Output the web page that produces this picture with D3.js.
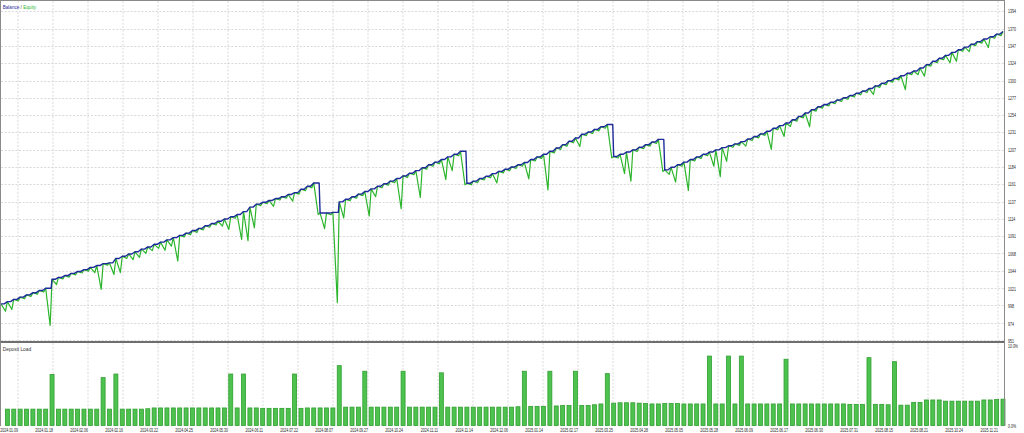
<!DOCTYPE html>
<html><head><meta charset="utf-8">
<script src="https://cdn.jsdelivr.net/npm/d3@7"></script>
<style>html,body{margin:0;padding:0;background:#fff;}svg{display:block;}</style>
</head><body>
<svg id="c" width="1024" height="433"></svg>
<script>
// ---- data ----
const balance = [
1000,1003,1006,1009,1012,1015,1018,1021,
1033,1035.5,1038,1041,1043.5,1046,1049,1051.5,1054,
1055,1061,
1064,1067,1070,1073.5,1076.5,1080,1083,1086,1089,
1092,1095,1098.5,1101.5,1105,1108,1111,1114,1117,
1120,1124,1130,1134,
1136.5,1139,1141.5,1144,1147,1149.5,
1154,1158,1162.5,
1122,1122,1123,1137,
1140.5,1144,1147.5,1151,
1154.5,1158,1161.5,1165,1168.5,1172,
1175.5,1179,1183,1187,1190.5,1194,
1197.5,1201,1205,
1162,
1165,1168.5,1171.5,1175,1178,
1181,1184,1187,1190,
1194,1197.5,1201,1205,
1209.5,1214,1218.5,1223,1228,
1231,1234.5,1238,1241,
1198,
1201,1204,1207,
1210.5,1214,1217.5,1221,
1180,
1183.5,1187,1190.5,1194,
1197.5,1201,1204,
1207,1210,1212.5,1215,1218,
1221.5,1225,1228.5,1232,1236,1239.5,1243,
1247.5,1252,1256.5,1261,1265,
1268,1271,1274,1277,1280,1283,1286,
1289.5,1293,1296.5,1300,
1303,1306.5,1310,1313,
1317,1321.5,1326,1330,
1334,1338,1341.5,1345,1349,
1352.5,1356,1359,1362.5,1366
];
// lowest equity reached during each trade (index 0 = start)
const equityLow = [
1000,990,992.5,1004,1007,1010,1013,1016,
971,1026,1033.5,1036,1039,1041.5,1044,1042,1019.5,
1052,1039.5,
1042,1061,1059.5,1062.5,1068,1071.5,1074.5,1072,1077.5,
1057.5,1090,1093,1096,1099.5,1103,1106,1104.5,1100,
1115,1086.5,1085,1102,
1132,1134.5,1131,1139.5,1142,1138,
1147.5,1152,1156,
1120,1101,1120,1001.5,
1115.5,1138.5,1142,1145.5,
1118,1144,1156,1159.5,1163,1128,
1170,1173.5,1143,1181,1185,1188.5,
1167,1179,1199,
1160,
1160,1163,1166.5,1169.5,1162.5,
1176,1179,1182,1185,
1168,1192,1195.5,1153,
1203,1207.5,1212,1216.5,1211.5,
1226,1229,1232.5,1236,
1196,
1196,1175,1165,
1205,1208.5,1212,1215.5,
1178,
1174,1163.5,1185,1152.5,
1192,1195.5,1199,
1185,1171,1191.5,1210.5,1213,
1212,1219.5,1223,1226.5,1207.5,1234,1225,
1238.5,1245.5,1250,1238,1259,
1263,1266,1269,1272,1275,1278,1281,
1284,1281.5,1291,1294.5,
1298,1301,1288,1308,
1308,1306,1319.5,1324,
1328,1324,1326,1339.5,1339,
1347,1350.5,1344.5,1357,1360.5
];
// deposit load per trade, % (trades 1..157)
const depositLoad = [
2.05,2.05,2.05,2.05,2.05,2.05,2.05,6.4,2.05,2.05,
2.05,2.05,2.05,2.05,2.05,6.0,2.05,6.45,2.05,2.05,
2.05,2.05,2.1,2.2,2.2,2.2,2.2,2.2,2.2,2.2,
2.2,2.2,2.2,2.2,2.2,6.45,2.2,6.45,2.2,2.2,
2.15,2.15,2.15,2.15,2.15,6.45,2.15,2.2,2.2,2.2,
2.2,2.2,7.5,2.3,2.3,2.3,6.8,2.3,2.3,2.3,
2.3,2.3,6.8,2.3,2.3,2.3,2.3,2.3,6.6,2.3,
2.3,2.3,2.3,2.3,2.3,2.3,2.3,2.3,2.3,2.3,
2.35,6.8,2.4,2.4,2.4,6.8,2.45,2.5,2.5,6.8,
2.5,2.5,2.6,2.7,6.5,2.8,2.85,2.85,2.85,2.8,
2.75,2.7,2.7,2.75,2.75,2.75,2.7,2.7,2.7,2.7,
8.7,2.7,2.7,8.7,2.7,8.7,2.7,2.7,2.7,2.7,
2.7,2.7,8.3,2.7,2.7,2.7,2.7,2.7,2.7,2.7,
2.7,2.7,2.65,2.65,2.65,8.5,2.65,2.65,2.6,8.0,
2.55,2.55,2.9,2.9,3.2,3.2,3.2,3.05,3.05,3.05,
3.05,3.05,3.05,3.2,3.2,3.25,3.3
];
const priceTicks = [951,974,998,1021,1044,1068,1091,1114,1137,1161,1184,1207,1231,1254,1277,1300,1324,1347,1370,1394];
const loadTicks = [0,10];
const dateLabels = ["2024.01.09","2024.01.18","2024.02.06","2024.02.16","2024.03.22","2024.04.25","2024.05.30","2024.06.11","2024.07.22","2024.08.07","2024.09.27","2024.10.24","2024.11.11","2024.11.14","2024.12.06","2025.01.14","2025.02.17","2025.03.25","2025.04.28","2025.05.05","2025.05.28","2025.06.09","2025.06.17","2025.06.30","2025.07.31","2025.08.15","2025.08.21","2025.10.24","2025.11.21"];

// ---- drawing ----
const svg = d3.select("#c");
const L = 1, R = 1004, T = 1, SEP = 341.5, B2 = 426;
const font = "Liberation Sans, Arial, sans-serif";
const labelColor = "#222";
const x = d3.scaleLinear().domain([0, balance.length - 1]).range([1, 1003]);
const y = d3.scaleLinear().domain([951, 1394]).range([340.3, 10.7]);
const yl = d3.scaleLinear().domain([0, 10]).range([425.5, 345.7]);
const xd = d3.scalePoint().domain(dateLabels).range([18, 998]);

// grid
const grid = svg.append("g").attr("stroke", "#cfcfcf").attr("stroke-dasharray", "2,1.6").attr("stroke-width", 0.8);
grid.selectAll(".h").data(priceTicks).join("line")
  .attr("x1", L).attr("x2", R).attr("y1", d => Math.round(y(d)) + 0.5).attr("y2", d => Math.round(y(d)) + 0.5);
grid.selectAll(".v").data(dateLabels).join("line")
  .attr("x1", d => xd(d)).attr("x2", d => xd(d)).attr("y1", T).attr("y2", B2);

// deposit load bars
svg.append("g").selectAll("rect").data(depositLoad).join("rect")
  .attr("x", (d, i) => x(i + 1) - 2).attr("width", 4)
  .attr("y", d => yl(d)).attr("height", d => yl(0) - yl(d))
  .attr("fill", "#4ec24e").attr("stroke", "#2f9e2f").attr("stroke-width", 0.8);

// equity line
const eqPts = [[0, balance[0]]];
for (let i = 1; i < balance.length; i++) {
  eqPts.push([i - 0.3, equityLow[i]]);
  eqPts.push([i, balance[i]]);
}
svg.append("path").datum(eqPts)
  .attr("d", d3.line().x(d => x(d[0])).y(d => y(d[1])))
  .attr("fill", "none").attr("stroke", "#2cb52c").attr("stroke-width", 1.2).attr("stroke-linejoin", "round");

// balance line: flat while a trade is open, changes when it closes
const balPts = [[0, balance[0]]];
for (let i = 1; i < balance.length; i++) {
  const big = Math.abs(balance[i] - balance[i - 1]) > 6;
  balPts.push([i - (big ? 0.15 : 0.5), balance[i - 1]]);
  balPts.push([i, balance[i]]);
}
svg.append("path").datum(balPts)
  .attr("d", d3.line().x(d => x(d[0])).y(d => y(d[1])))
  .attr("fill", "none").attr("stroke", "#1f2a9a").attr("stroke-width", 1.4).attr("stroke-linejoin", "round");

// frames
svg.append("rect").attr("x", L - 0.5).attr("y", T - 0.5).attr("width", R - L + 1).attr("height", SEP - T + 0.5)
  .attr("fill", "none").attr("stroke", "#8a8a8a").attr("stroke-width", 1);
svg.append("line").attr("x1", L - 1).attr("x2", R + 0.5).attr("y1", SEP + 0.5).attr("y2", SEP + 0.5)
  .attr("stroke", "#6e6e6e").attr("stroke-width", 2);
svg.append("line").attr("x1", L - 0.5).attr("x2", L - 0.5).attr("y1", SEP).attr("y2", B2).attr("stroke", "#8a8a8a");
svg.append("line").attr("x1", R + 0.5).attr("x2", R + 0.5).attr("y1", SEP).attr("y2", B2).attr("stroke", "#8a8a8a");

// axis labels (small condensed text)
const squeeze = 0.68, fs = 5.2;
function styleTicks(g) {
  g.select(".domain").remove();
  g.selectAll("text").attr("x", 0).attr("dy", "0.35em")
    .attr("transform", `translate(4,0) scale(${squeeze},1)`)
    .attr("font-size", fs).attr("font-family", font).attr("fill", labelColor);
}
const yAxis = d3.axisRight(y).tickValues(priceTicks).tickSize(0).tickFormat(d3.format("d"));
svg.append("g").attr("transform", `translate(${R},0)`).call(yAxis).call(styleTicks);
const lAxis = d3.axisRight(yl).tickValues(loadTicks).tickSize(0).tickFormat(d => d3.format(".1f")(d) + "%");
svg.append("g").attr("transform", `translate(${R},0)`).call(lAxis).call(styleTicks);
svg.append("g").selectAll("text").data(dateLabels).join("text")
  .attr("transform", d => `translate(${xd(d)},431.9) scale(${squeeze},1)`)
  .attr("text-anchor", "end")
  .attr("font-size", fs).attr("font-family", font).attr("fill", labelColor).text(d => d);

// titles
const t = svg.append("text").attr("transform", "translate(2.7,8.6) scale(0.84,1)").attr("font-size", 5.5).attr("font-family", font);
t.append("tspan").attr("fill", "#1f2a9a").text("Balance");
t.append("tspan").attr("fill", "#444").text(" / ");
t.append("tspan").attr("fill", "#2cb52c").text("Equity");
svg.append("text").attr("transform", "translate(2.7,350.6) scale(0.88,1)").attr("font-size", 5.5)
  .attr("font-family", font).attr("fill", "#333").text("Deposit Load");
</script>
</body></html>
